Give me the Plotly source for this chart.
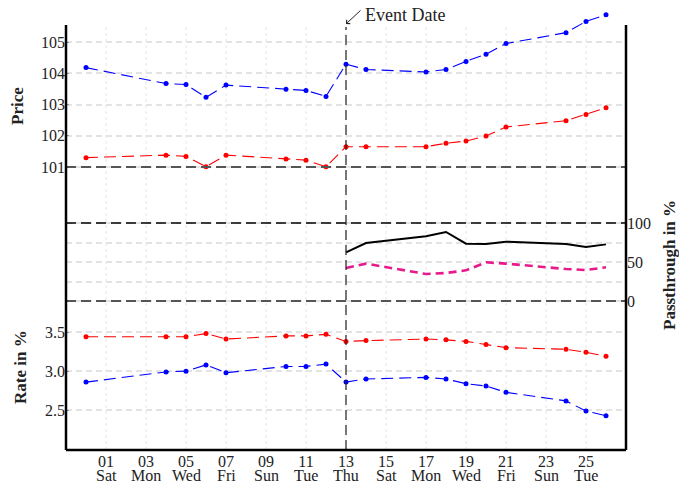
import plotly.graph_objects as go
import pandas as pd

# ---------------- data ----------------
dates_all = ["2021-12-31", "2022-01-04", "2022-01-05", "2022-01-06", "2022-01-07",
             "2022-01-10", "2022-01-11", "2022-01-12", "2022-01-13", "2022-01-14",
             "2022-01-17", "2022-01-18", "2022-01-19", "2022-01-20", "2022-01-21",
             "2022-01-24", "2022-01-25", "2022-01-26"]
price_blue = [104.18, 103.67, 103.64, 103.23, 103.62, 103.49, 103.45, 103.26, 104.29,
              104.12, 104.04, 104.12, 104.38, 104.61, 104.95, 105.30, 105.66, 105.87]
price_red = [101.30, 101.38, 101.34, 101.01, 101.38, 101.26, 101.22, 101.01, 101.65,
             101.65, 101.65, 101.76, 101.83, 101.99, 102.28, 102.48, 102.68, 102.90]
rate_red = [3.44, 3.44, 3.44, 3.48, 3.41, 3.45, 3.45, 3.47, 3.38,
            3.39, 3.41, 3.40, 3.38, 3.34, 3.30, 3.28, 3.24, 3.19]
rate_blue = [2.86, 2.99, 3.00, 3.08, 2.98, 3.06, 3.06, 3.09, 2.86,
             2.90, 2.92, 2.90, 2.84, 2.81, 2.73, 2.62, 2.49, 2.43]

dates_post = ["2022-01-13", "2022-01-14", "2022-01-17", "2022-01-18", "2022-01-19",
              "2022-01-20", "2022-01-21", "2022-01-24", "2022-01-25", "2022-01-26"]
pass_black = [62.4, 74.4, 82.9, 88.5, 73.5, 73.1, 76.1, 73.0, 69.2, 72.6]
pass_pink = [42.3, 47.9, 34.6, 35.9, 39.3, 49.6, 47.9, 41.0, 39.7, 43.2]

event_date = "2022-01-13"
tick_dates = pd.date_range("2022-01-01", "2022-01-25", freq="2D")
tick_days = [d.strftime("%d") for d in tick_dates]
tick_wdays = [d.strftime("%a") for d in tick_dates]

price_ticks = [101, 102, 103, 104, 105]
pass_ticks = [0, 25, 50, 75, 100]
pass_labels = ["0", "", "50", "", "100"]
rate_ticks = [2.5, 3.0, 3.5]

# ---------------- layout helpers ----------------
W, H = 679, 486
ML, MR, MT, MB = 66, 53, 8, 36
PH = H - MT - MB
PW = W - ML - MR
def py(p):  # pixel row -> paper y
    return (H - MB - p) / PH
def px(p):  # pixel column -> paper x
    return (p - ML) / PW

FONT = "Liberation Serif, DejaVu Serif, serif"
BLUE, RED = "#0000ff", "#ff0000"
PINK = "#e8198b"
GRID = "#e3e3e3"
DARK = "#555555"

# axis scales (pixels per unit) and anchor pixels
P_PX, P_Y0, P_V0 = 31.25, 167.0, 101.0     # price
Q_PX, Q_Y0 = 0.78, 301.0                    # passthrough (0 % row)
R_PX, R_Y0, R_V0 = 78.3, 371.15, 3.0        # rate

fig = go.Figure()
mk = dict(size=5)
fig.add_trace(go.Scatter(x=dates_all, y=price_blue, yaxis="y", mode="lines+markers",
                         line=dict(color=BLUE, width=1.1, dash="12px,6px"),
                         marker=dict(color=BLUE, **mk), cliponaxis=False, showlegend=False))
fig.add_trace(go.Scatter(x=dates_all, y=price_red, yaxis="y", mode="lines+markers",
                         line=dict(color=RED, width=1.1, dash="12px,6px"),
                         marker=dict(color=RED, **mk), cliponaxis=False, showlegend=False))
fig.add_trace(go.Scatter(x=dates_post, y=pass_black, yaxis="y2", mode="lines",
                         line=dict(color="black", width=2), showlegend=False))
fig.add_trace(go.Scatter(x=dates_post, y=pass_pink, yaxis="y2", mode="lines",
                         line=dict(color=PINK, width=2.6, dash="8px,5px"), showlegend=False))
fig.add_trace(go.Scatter(x=dates_all, y=rate_red, yaxis="y3", mode="lines+markers",
                         line=dict(color=RED, width=1.1, dash="12px,6px"),
                         marker=dict(color=RED, **mk), cliponaxis=False, showlegend=False))
fig.add_trace(go.Scatter(x=dates_all, y=rate_blue, yaxis="y3", mode="lines+markers",
                         line=dict(color=BLUE, width=1.1, dash="12px,6px"),
                         marker=dict(color=BLUE, **mk), cliponaxis=False, showlegend=False))

tickfont = dict(family=FONT, size=16, color="#222")
# domains in pixel rows (overlapping slightly so boundary lines are not clipped)
price_dom = (185, MT)
pass_dom = (310, 160)
rate_dom = (H - MB, 301)

def rng(dom, y0, v0, pxu):
    return [v0 + (y0 - dom[0]) / pxu, v0 + (y0 - dom[1]) / pxu]

fig.update_layout(
    width=W, height=H, margin=dict(l=ML, r=MR, t=MT, b=MB, autoexpand=False),
    paper_bgcolor="white", plot_bgcolor="rgba(0,0,0,0)",
    font=dict(family=FONT, size=16, color="#222"),
    xaxis=dict(type="date", range=["2021-12-30", "2022-01-27"], anchor="y3",
               tickvals=list(tick_dates), ticktext=tick_days, showgrid=False,
               zeroline=False, showline=False, ticks="", tickfont=tickfont,
               automargin=False),
    yaxis=dict(domain=[py(price_dom[0]), py(price_dom[1])],
               range=rng(price_dom, P_Y0, P_V0, P_PX), tickvals=price_ticks,
               showgrid=True, gridcolor=GRID, griddash="6px,4px", gridwidth=1.6,
               zeroline=False, showline=False, ticks="inside", ticklen=3,
               tickcolor="#999", tickfont=tickfont, anchor="x", automargin=False),
    yaxis2=dict(domain=[py(pass_dom[0]), py(pass_dom[1])],
                range=rng(pass_dom, Q_Y0, 0, Q_PX), tickvals=pass_ticks,
                ticktext=pass_labels, side="right", showgrid=True, gridcolor=GRID,
                griddash="6px,4px", gridwidth=1.6, zeroline=False, showline=False,
                ticks="", tickfont=tickfont, anchor="x", automargin=False),
    yaxis3=dict(domain=[py(rate_dom[0]), py(rate_dom[1])],
                range=rng(rate_dom, R_Y0, R_V0, R_PX), tickvals=rate_ticks,
                tickformat=".1f", showgrid=True, gridcolor=GRID, griddash="6px,4px",
                gridwidth=1.6, zeroline=False, showline=False, ticks="inside", ticklen=3,
                tickcolor="#999", tickfont=tickfont, anchor="x", automargin=False),
)

top = py(25)
shapes = []
for d in tick_dates:
    shapes.append(dict(type="line", xref="x", yref="paper", x0=d, x1=d, y0=0, y1=top,
                       line=dict(color="#e6e6e6", width=1, dash="dot"), layer="below"))
for yref, yv, col, wd in [("y", 101, DARK, 2.0), ("y2", 100, "black", 1.3), ("y2", 0, DARK, 2.0)]:
    shapes.append(dict(type="line", xref="paper", yref=yref, x0=0, x1=1, y0=yv, y1=yv,
                       line=dict(color=col, width=wd, dash="10px,5px"), layer="above"))
shapes.append(dict(type="line", xref="x", yref="paper", x0=event_date, x1=event_date,
                   y0=0, y1=py(27), line=dict(color="#222", width=1.2, dash="10px,5px"),
                   layer="above"))
shapes.append(dict(type="line", xref="paper", yref="paper", x0=0, x1=0, y0=0, y1=top,
                   line=dict(color="black", width=2.5)))
shapes.append(dict(type="line", xref="paper", yref="paper", x0=1, x1=1, y0=0, y1=top,
                   line=dict(color="black", width=2.5)))
shapes.append(dict(type="line", xref="paper", yref="paper", x0=0, x1=1, y0=0, y1=0,
                   line=dict(color="black", width=2.5)))
fig.update_layout(shapes=shapes)

ann = []
for d, w in zip(tick_dates, tick_wdays):
    ann.append(dict(x=d, xref="x", y=0, yref="paper", text=w, showarrow=False,
                    xanchor="center", yanchor="top", yshift=-15,
                    font=dict(family=FONT, size=16, color="#222")))
ann.append(dict(x=event_date, xref="x", y=py(24), yref="paper", text="", showarrow=True,
                ax=16, ay=-15, arrowhead=4, arrowsize=1, arrowwidth=1, arrowcolor="#222"))
ann.append(dict(x=event_date, xref="x", y=py(15), yref="paper", text="Event Date",
                showarrow=False, xanchor="left", yanchor="middle", xshift=17,
                font=dict(family=FONT, size=18, color="#222")))
lab = dict(family=FONT, size=17, color="#222")
ann.append(dict(x=px(17), xref="paper", y=py(106), yref="paper", xanchor="center",
                yanchor="middle", text="<b>Price</b>", textangle=-90, showarrow=False, font=lab))
ann.append(dict(x=px(20), xref="paper", y=py(367), yref="paper", xanchor="center",
                yanchor="middle", text="<b>Rate in %</b>", textangle=-90, showarrow=False, font=lab))
ann.append(dict(x=px(670), xref="paper", y=py(265), yref="paper", xanchor="center",
                yanchor="middle", text="<b>Passthrough in %</b>", textangle=-90,
                showarrow=False, font=lab))
fig.update_layout(annotations=ann)

fig.write_html("out.html", post_script="document.body.style.margin='0';",
               config={"displayModeBar": False})
